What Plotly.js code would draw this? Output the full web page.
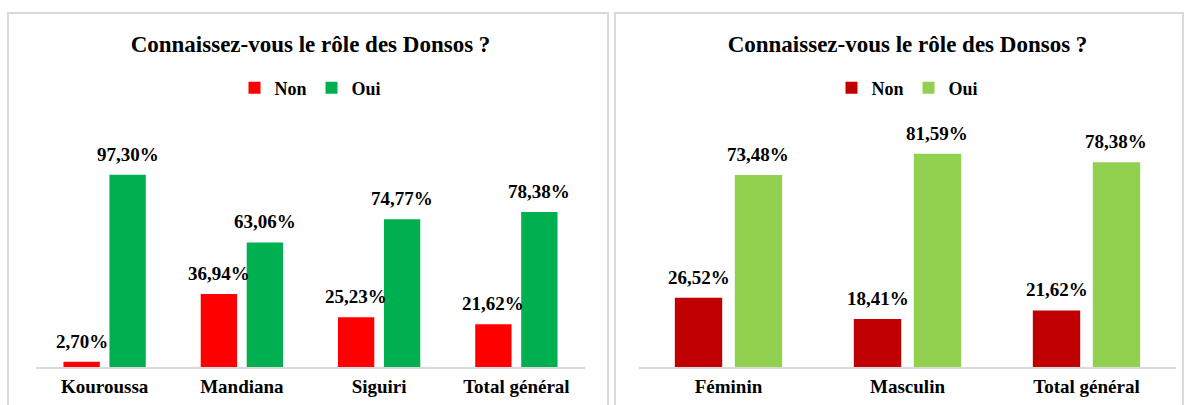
<!DOCTYPE html>
<html>
<head>
<meta charset="utf-8">
<script src="https://cdn.plot.ly/plotly-3.0.1.min.js"></script>
<style>
  html, body { margin: 0; padding: 0; background: #ffffff; width: 1187px; height: 405px; overflow: hidden; }
  .panel { position: absolute; border: 2px solid #d9d9d9; background: #fff; overflow: hidden; }
  #p1 { left: 7px; top: 12px; width: 598px; height: 400px; }
  #p2 { left: 614px; top: 12px; width: 566px; height: 400px; }
</style>
</head>
<body>
<div class="panel" id="p1"><div id="chart1" style="width:598px;height:400px;"></div></div>
<div class="panel" id="p2"><div id="chart2" style="width:566px;height:400px;"></div></div>
<script>
// ---- Data ----
const chartTitle = "Connaissez-vous le rôle des Donsos ?";
const seriesNames = ["Non", "Oui"];

const categoriesZone = ["Kouroussa", "Mandiana", "Siguiri", "Total général"];
const nonZone = [2.70, 36.94, 25.23, 21.62];
const ouiZone = [97.30, 63.06, 74.77, 78.38];

const categoriesSexe = ["Féminin", "Masculin", "Total général"];
const nonSexe = [26.52, 18.41, 21.62];
const ouiSexe = [73.48, 81.59, 78.38];

// ---- Styling ----
const FONT = "Liberation Serif";
const BARGAP = 0.33;
const fmt = v => v.toFixed(2).replace('.', ',') + '%';

function makeChart(divId, cats, non, oui, colors, yMax, margin) {
  const traces = [
    { type: 'bar', name: seriesNames[0], x: cats, y: non, marker: { color: colors[0] }, hoverinfo: 'skip' },
    { type: 'bar', name: seriesNames[1], x: cats, y: oui, marker: { color: colors[1] }, hoverinfo: 'skip' }
  ];
  const slot = (1 - BARGAP) / 2;
  const annotations = [];
  [non, oui].forEach((vals, s) => {
    vals.forEach((v, i) => {
      annotations.push({
        x: i + (s === 0 ? -slot / 2 : slot / 2), y: v, xref: 'x', yref: 'y',
        text: fmt(v), showarrow: false, yanchor: 'bottom', xanchor: 'center', yshift: 8,
        font: { family: FONT, size: 19, color: '#000', weight: 'bold' }
      });
    });
  });
  const layout = {
    width: parseInt(document.getElementById(divId).style.width),
    height: 400,
    margin: margin,
    paper_bgcolor: '#ffffff',
    plot_bgcolor: '#ffffff',
    font: { family: FONT, color: '#000' },
    barmode: 'group',
    bargap: BARGAP,
    bargroupgap: 0.21,
    title: {
      text: chartTitle,
      font: { family: FONT, size: 23, color: '#000', weight: 'bold' },
      x: 0.5, xref: 'paper', xanchor: 'center',
      y: 1 - 30 / 400, yref: 'container', yanchor: 'middle'
    },
    showlegend: true,
    legend: {
      orientation: 'h', x: 0.5, xref: 'paper', xanchor: 'center',
      y: 1 - 74 / 400, yref: 'container', yanchor: 'middle',
      font: { family: FONT, size: 18, color: '#000', weight: 'bold' },
      itemwidth: 30, bgcolor: 'rgba(0,0,0,0)'
    },
    xaxis: {
      type: 'category', showgrid: false, zeroline: false,
      showline: true, linecolor: '#d9d9d9', linewidth: 2,
      ticks: '', ticklabelstandoff: 1,
      tickfont: { family: FONT, size: 19, color: '#000', weight: 'bold' },
      fixedrange: true
    },
    yaxis: {
      range: [0, yMax], visible: false, showgrid: false, zeroline: false, fixedrange: true
    },
    annotations: annotations
  };
  Plotly.newPlot(divId, traces, layout, { displayModeBar: false, staticPlot: true });
}

makeChart('chart1', categoriesZone, nonZone, ouiZone, ['#ff0000', '#00b050'], 125, { l: 27, r: 22, t: 106, b: 47 });
makeChart('chart2', categoriesSexe, nonSexe, ouiSexe, ['#c00000', '#92d050'], 94.5, { l: 23, r: 6, t: 106, b: 47 });
</script>
</body>
</html>
